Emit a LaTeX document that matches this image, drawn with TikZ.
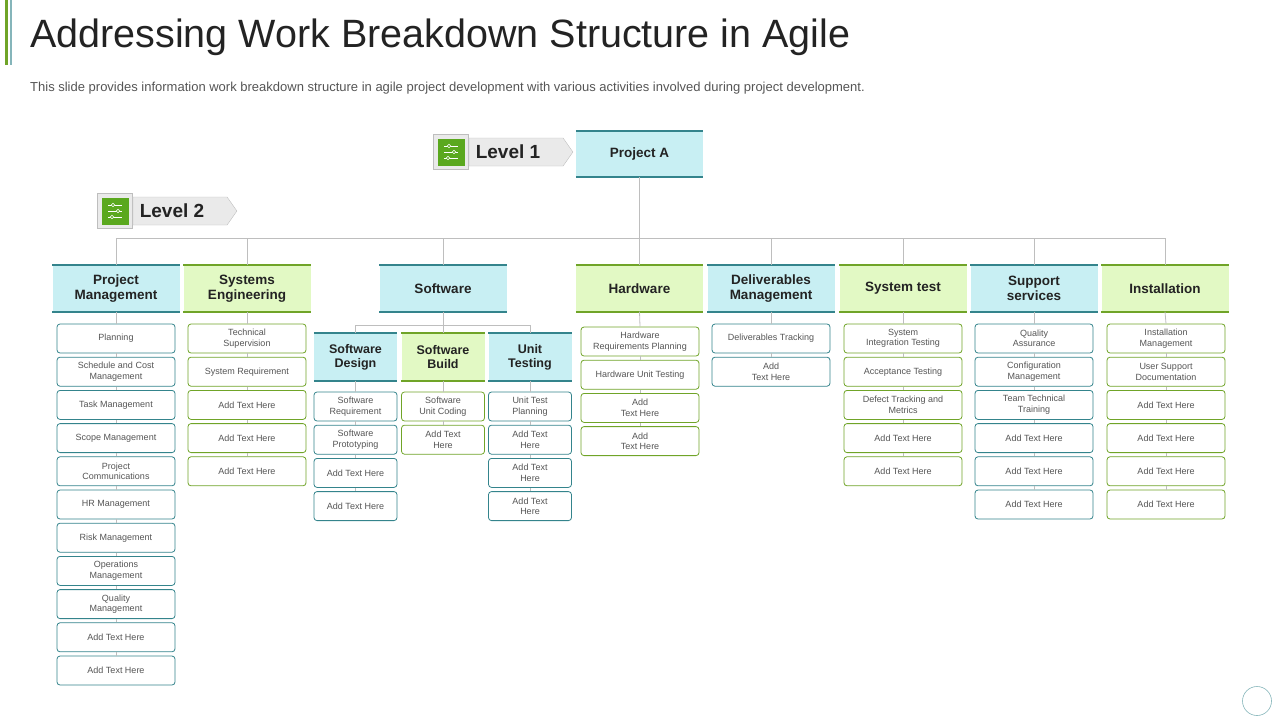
\documentclass[tikz,border=0pt]{standalone}
\usepackage{fontspec}
\setmainfont{Liberation Sans}
\usetikzlibrary{shapes.symbols,backgrounds}
\definecolor{teal1}{RGB}{52,132,140}
\definecolor{green1}{RGB}{112,164,40}
\definecolor{bluefill}{RGB}{200,239,243}
\definecolor{greenfill}{RGB}{226,249,196}
\definecolor{darktext}{RGB}{35,35,35}
\definecolor{leaftext}{RGB}{85,85,85}
\definecolor{linegray}{RGB}{190,190,190}
\definecolor{tagfill}{RGB}{234,234,234}
\definecolor{icongreen}{RGB}{90,168,30}
\tikzset{
 lvl/.style={minimum height=46pt, inner sep=0pt, align=center, font=\fontsize{13.5}{15.5}\selectfont\bfseries, text=darktext},
 leaf/.style={draw=#1, fill=white, rounded corners=3pt, line width=0.8pt, minimum height=29pt, align=center, font=\fontsize{9}{10.5}\selectfont, text=leaftext, inner sep=0pt},
 conn/.style={draw=linegray, line width=0.8pt},
 tagbox/.style={signal, signal to=east, signal pointer angle=110, fill=tagfill, draw=linegray, minimum height=28pt, inner sep=0pt, anchor=west, font=\fontsize{19}{20}\selectfont\bfseries, text=darktext},
 iconbox/.style={draw=linegray, fill=tagfill, minimum size=35pt, inner sep=0pt}
}
\newcommand\mybox[7]{%
 \node[lvl, minimum width=#4pt, fill=#5] (#1) at (#2,#3) {#7};
 \draw[#6, line width=2pt] (#1.north west)--(#1.north east);
 \draw[#6, line width=2pt] (#1.south west)--(#1.south east);}
\newcommand\leaves[7]{% prefix, parent, x, ystart, width, color, list
 \foreach \t [count=\i] in {#7} {
  \node[leaf=#6, minimum width=#5pt] (#1\i) at (#3,{#4+14.5+(\i-1)*33.2}) {\t};
  \ifnum\i=1 \draw[conn] (#2.south)--(#1\i.north);
  \else \pgfmathtruncatemacro\j{\i-1}\draw[conn] (#1\j.south)--(#1\i.north);\fi
 }}
\newcommand\myicon[2]{%
 \node[iconbox] (#1) at (#2) {};
 \node[fill=icongreen, minimum size=27pt, inner sep=0pt] (#1g) at (#1) {};
 \foreach \dy/\dx in {-6/-3,0/3,6/-2} {
  \draw[white, line width=0.6pt] ([xshift=-7pt,yshift=\dy pt]#1g.center) -- ([xshift=7pt,yshift=\dy pt]#1g.center);
  \draw[white, fill=icongreen, line width=0.6pt] ([xshift=\dx pt,yshift=\dy pt]#1g.center) circle (1.8pt);
 }}
\begin{document}
\begin{tikzpicture}[x=1pt,y=-1pt]
\useasboundingbox (0,0) rectangle (1280,720);
\fill[green1] (5,0) rectangle (8,65);
\fill[teal1!60] (10,0) rectangle (12,65);
\node[anchor=west, inner sep=0pt, font=\fontsize{39.5}{42}\selectfont, text=darktext] (title) at (30,37) {Addressing Work Breakdown Structure in Agile};
\node[anchor=west, inner sep=0pt, font=\fontsize{13}{15}\selectfont, text=leaftext] (sub) at (30,88) {This slide provides information work breakdown structure in agile project development with various activities involved during project development.};

\coordinate (bus) at (0,238);
\coordinate (subbus) at (0,325);

\mybox{pa}{639.5}{154}{127}{bluefill}{teal1}{Project A}
\mybox{pm}{116}{288.5}{127}{bluefill}{teal1}{Project\\Management}
\mybox{se}{247}{288.5}{127}{greenfill}{green1}{Systems\\Engineering}
\mybox{sw}{443}{288.5}{127}{bluefill}{teal1}{Software}
\mybox{hw}{639.5}{288.5}{127}{greenfill}{green1}{Hardware}
\mybox{dm}{771}{288.5}{127}{bluefill}{teal1}{Deliverables\\Management}
\mybox{st}{903}{288.5}{127}{greenfill}{green1}{System test}
\mybox{ss}{1034}{288.5}{127}{bluefill}{teal1}{Support\\services}
\mybox{in}{1165}{288.5}{127}{greenfill}{green1}{Installation}

\begin{scope}[lvl/.append style={minimum height=47pt, font=\fontsize{12.5}{14}\selectfont\bfseries}]
\mybox{sd}{355.5}{357}{83}{bluefill}{teal1}{Software\\Design}
\mybox{sb}{443}{357}{83}{greenfill}{green1}{Software\\Build}
\mybox{ut}{530}{357}{83}{bluefill}{teal1}{Unit\\Testing}
\end{scope}

\draw[conn] (pa.south)--(hw.north);
\draw[conn] (pm.north)--(pm.north|-bus)--(in.north|-bus)--(in.north);
\foreach \n in {se,sw,dm,st,ss} \draw[conn] (\n.north)--(\n.north|-bus);
\draw[conn] (sw.south)--(sb.north);
\draw[conn] (sd.north)--(sd.north|-subbus)--(ut.north|-subbus)--(ut.north);

\leaves{pml}{pm}{116}{324}{118}{teal1}{Planning,{Schedule and Cost\\Management},Task Management,Scope Management,{Project\\Communications},HR Management,Risk Management,{Operations\\Management},{Quality\\Management},Add Text Here,Add Text Here}
\leaves{sel}{se}{247}{324}{118}{green1}{{Technical\\Supervision},System Requirement,Add Text Here,Add Text Here,Add Text Here}
\leaves{sdl}{sd}{355.5}{392}{83}{teal1}{{Software\\Requirement},{Software\\Prototyping},Add Text Here,Add Text Here}
\leaves{sbl}{sb}{443}{392}{83}{green1}{{Software\\Unit Coding},{Add Text\\Here}}
\leaves{utl}{ut}{530}{392}{83}{teal1}{{Unit Test\\Planning},{Add Text\\Here},{Add Text\\Here},{Add Text\\Here}}
\leaves{hwl}{hw}{640}{327}{118}{green1}{{Hardware\\Requirements Planning},Hardware Unit Testing,{Add\\Text Here},{Add\\Text Here}}
\leaves{dml}{dm}{771}{324}{118}{teal1}{Deliverables Tracking,{Add\\Text Here}}
\leaves{stl}{st}{903}{324}{118}{green1}{{System\\Integration Testing},Acceptance Testing,{Defect Tracking and\\Metrics},Add Text Here,Add Text Here}
\leaves{ssl}{ss}{1034}{324}{118}{teal1}{{Quality\\Assurance},{Configuration\\Management},{Team Technical\\Training},Add Text Here,Add Text Here,Add Text Here}
\leaves{inl}{in}{1166}{324}{118}{green1}{{Installation\\Management},{User Support\\Documentation},Add Text Here,Add Text Here,Add Text Here,Add Text Here}

\myicon{ic1}{451,152}
\node[tagbox, minimum width=104pt] (tag1) at (ic1.east) {\hspace*{-16pt}Level 1};
\myicon{ic2}{115,211}
\node[tagbox, minimum width=104pt] (tag2) at (ic2.east) {\hspace*{-16pt}Level 2};

\node[draw=teal1!60, circle, minimum size=29pt, line width=0.6pt] (pg) at (1257,701) {};
\end{tikzpicture}
\end{document}
